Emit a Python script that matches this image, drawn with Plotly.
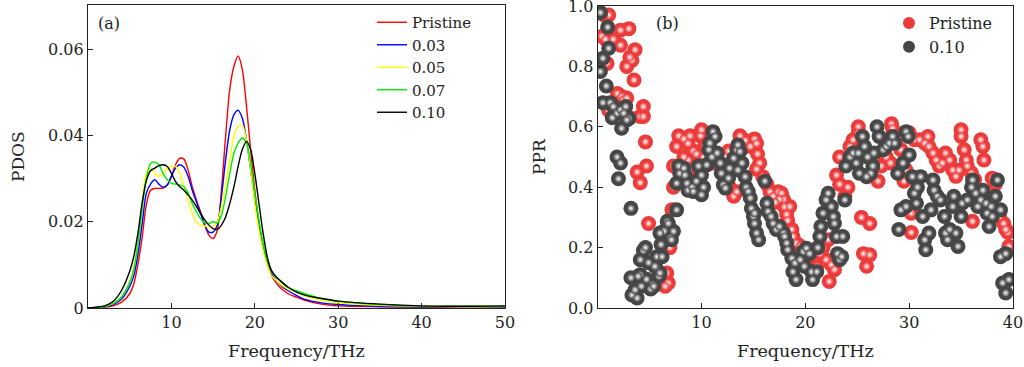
import plotly.graph_objects as go

# ---------------- Panel (a): PDOS ----------------
freq_a = [0, 1, 2, 3, 4, 5, 5.5, 6, 6.5, 7, 7.5, 8, 8.5, 9, 9.5, 10, 10.5, 11, 11.5, 12,
          12.5, 13, 13.5, 14, 14.5, 15, 15.5, 16, 16.5, 17, 17.5, 18, 18.5, 19, 19.5, 20,
          20.5, 21, 21.5, 22, 22.5, 23, 24, 25, 26, 28, 30, 35, 40, 45, 50]

pdos_pristine = [0, 0.0001, 0.0002, 0.0005, 0.0013, 0.0033, 0.0056, 0.0103, 0.0165, 0.024,
                 0.0273, 0.0277, 0.0277, 0.0278, 0.0285, 0.0305, 0.0332, 0.0347, 0.0345, 0.032,
                 0.0281, 0.025, 0.0223, 0.0192, 0.0169, 0.0161, 0.018, 0.0273, 0.0398, 0.0507,
                 0.056, 0.0584, 0.0553, 0.0468, 0.0367, 0.0273, 0.0196, 0.0141, 0.0103, 0.0075,
                 0.006, 0.0048, 0.0033, 0.0025, 0.0018, 0.0009, 0.0005, 0.0003, 0.0002, 0.0002, 0.0003]

pdos_003 = [0, 0.0001, 0.0003, 0.0008, 0.002, 0.005, 0.0075, 0.0126, 0.0196, 0.0266,
            0.0287, 0.0297, 0.0287, 0.028, 0.0285, 0.0305, 0.0324, 0.0332, 0.0326, 0.0305,
            0.0273, 0.0246, 0.0219, 0.0192, 0.0176, 0.0176, 0.0192, 0.0258, 0.0343, 0.0413,
            0.0448, 0.0458, 0.044, 0.039, 0.032, 0.025, 0.0188, 0.0141, 0.0103, 0.0079,
            0.0065, 0.0054, 0.004, 0.0029, 0.002, 0.0012, 0.0008, 0.0004, 0.0003, 0.0003, 0.0003]

pdos_005 = [0, 0.0001, 0.0004, 0.001, 0.0025, 0.006, 0.0095, 0.016, 0.0245, 0.0312,
            0.0324, 0.0312, 0.0305, 0.0312, 0.0324, 0.0328, 0.0328, 0.0312, 0.0281, 0.025,
            0.0219, 0.02, 0.0192, 0.019, 0.0188, 0.0188, 0.02, 0.0235, 0.0289, 0.0343,
            0.0398, 0.0421, 0.0423, 0.039, 0.032, 0.0242, 0.018, 0.0134, 0.0099, 0.0075,
            0.0065, 0.0056, 0.0044, 0.0037, 0.0028, 0.0017, 0.0012, 0.0006, 0.0004, 0.0003, 0.0004]

pdos_007 = [0, 0.0001, 0.0004, 0.0011, 0.0025, 0.006, 0.009, 0.015, 0.023, 0.030,
            0.0335, 0.0338, 0.0332, 0.0312, 0.0297, 0.0289, 0.0287, 0.0285, 0.0281, 0.0266,
            0.0242, 0.0223, 0.0207, 0.0197, 0.0196, 0.02, 0.0197, 0.0215, 0.0258, 0.0312,
            0.0359, 0.0382, 0.0394, 0.0382, 0.0336, 0.0266, 0.0204, 0.0149, 0.011, 0.0087,
            0.0074, 0.0064, 0.0048, 0.004, 0.0033, 0.0022, 0.0016, 0.0008, 0.0004, 0.0004, 0.0004]

pdos_010 = [0, 0.0002, 0.0005, 0.0015, 0.004, 0.0085, 0.012, 0.0175, 0.0245, 0.0295,
            0.0318, 0.0324, 0.033, 0.0332, 0.0328, 0.0312, 0.0293, 0.0281, 0.0273, 0.0262,
            0.025, 0.0235, 0.0219, 0.0204, 0.0192, 0.0184, 0.0182, 0.0192, 0.0211, 0.0242,
            0.0281, 0.0328, 0.0367, 0.0386, 0.0367, 0.0312, 0.0242, 0.0173, 0.0118, 0.0087,
            0.0073, 0.0064, 0.0048, 0.0037, 0.003, 0.0022, 0.0016, 0.0009, 0.0005, 0.0004, 0.0005]

pdos_names = ["Pristine", "0.03", "0.05", "0.07", "0.10"]
pdos_colors = ["#ff0000", "#0000ff", "#ffff00", "#00ee00", "#000000"]

x_ticks_a = [10, 20, 30, 40, 50]
y_ticks_a = [0, 0.02, 0.04, 0.06]
y_ticktext_a = ["0", "0.02", "0.04", "0.06"]

# ---------------- Panel (b): PPR ----------------
freq_pristine = [0.4, 1.06, 0.6, 0.74, 1.5, 2.2, 3.0, 2.2, 0.26, 0.9, 2.8, 3.3, 3.1, 3.6, 3.5,
                 1.9, 2.3, 2.5, 2.8, 1.05, 4.4, 4.1, 4.4, 3.1, 4.6, 4.7, 3.8, 4.1, 4.9,
                 6.65, 6.8, 6.5, 6.95, 7.15,
                 7.3, 7.6, 7.8, 8.3, 8.7, 8.9, 9.2, 9.5, 9.9, 10.0, 10.3, 9.7, 8.7, 7.3, 8.3, 10.2, 10.7,
                 11.1, 11.8, 12.3, 12.6, 12.7, 13.1, 13.4, 13.7, 14.2, 14.7, 15.1, 15.3, 15.4, 15.6,
                 15.3, 15.9, 16.3, 16.6, 16.9, 17.4, 17.7, 17.9, 18.0, 18.2, 18.3, 18.7, 18.8, 19.1,
                 19.5, 18.5, 17.5, 17.1,
                 20.7, 21.1, 22.0, 22.5, 22.3, 22.8, 21.4, 21.7, 22.2,
                 23.0, 23.3, 23.3, 24.1, 23.8, 24.6, 25.1, 25.1, 24.7, 24.3, 25.4, 26.2, 25.6, 26.2,
                 25.9, 27.0, 27.3, 27.8, 28.2, 28.3, 28.4, 27.8, 28.7, 29.2, 29.7, 29.5, 30.0, 30.5,
                 30.2, 30.2,
                 31.0, 31.5, 31.8, 31.9, 32.3, 32.6, 32.9, 33.2, 33.5, 33.9, 34.2, 34.5, 34.8, 35.0,
                 35.0, 35.3, 35.5, 35.6, 36.0, 36.3, 36.1, 36.9, 37.1, 37.2, 38.0, 38.7, 39.1, 39.5,
                 39.6, 39.3, 38.3]
ppr_pristine = [0.90, 0.97, 0.97, 0.89, 0.89, 0.92, 0.925, 0.87, 0.82, 0.81, 0.80, 0.82, 0.83, 0.855, 0.755,
                0.71, 0.70, 0.69, 0.695, 0.655, 0.667, 0.634, 0.634, 0.63, 0.55, 0.47, 0.45, 0.415, 0.28,
                0.116, 0.083, 0.072, 0.20, 0.325,
                0.47, 0.535, 0.57, 0.56, 0.545, 0.57, 0.52, 0.51, 0.57, 0.59, 0.535, 0.45, 0.49, 0.40, 0.50, 0.50, 0.51,
                0.48, 0.47, 0.50, 0.52, 0.40, 0.37, 0.385, 0.57, 0.555, 0.535, 0.56, 0.545, 0.51, 0.48,
                0.46, 0.435, 0.41, 0.385, 0.37, 0.385, 0.38, 0.36, 0.335, 0.31, 0.29, 0.26, 0.237, 0.215,
                0.205, 0.336, 0.36, 0.35,
                0.17, 0.138, 0.16, 0.143, 0.088, 0.127, 0.18, 0.20, 0.226,
                0.44, 0.50, 0.41, 0.40, 0.37, 0.557, 0.60, 0.58, 0.513, 0.535, 0.30, 0.28, 0.18, 0.176,
                0.138, 0.42, 0.47, 0.50, 0.48, 0.61, 0.595, 0.557, 0.545, 0.524, 0.457, 0.42, 0.58, 0.557,
                0.314, 0.25,
                0.557, 0.546, 0.568, 0.535, 0.513, 0.49, 0.47, 0.48, 0.513, 0.49, 0.457, 0.436, 0.457, 0.59,
                0.568, 0.524, 0.49, 0.47, 0.447, 0.425, 0.287, 0.557, 0.535, 0.49, 0.43, 0.303, 0.28, 0.25,
                0.204, 0.26, 0.41]

freq_010 = [0.26, 0.96, 1.06, 0.5, 0.26, 0.83, 0.5, 1.2, 1.5, 1.86, 1.4, 2.2, 2.7, 2.5, 2.3, 3.0, 2.8,
            1.86, 2.2, 2.0, 3.2,
            3.3, 3.6, 3.2, 4.1, 4.7, 5.3, 5.9, 5.7, 4.4, 4.1, 6.1, 6.4, 6.7, 7.3, 7.6, 7.0, 5.6, 5.1,
            4.2, 3.8, 3.9, 4.6, 4.9, 5.4, 5.5, 6.2, 6.0, 6.8, 7.1, 6.0,
            7.8, 7.9, 7.6, 8.3, 8.4, 8.6, 8.7, 9.1, 9.2, 9.5, 9.7, 10.0, 10.2, 10.0, 10.5, 10.7, 10.8,
            11.1, 11.3, 11.0, 11.5, 11.8, 11.9, 12.1, 12.3, 12.6, 12.7, 13.1, 13.4, 13.5, 13.7, 13.9,
            13.5, 14.2, 14.3, 14.5, 14.7, 14.8, 15.0, 15.1, 15.3, 15.5, 15.1, 16.1, 16.3, 16.4, 16.7,
            16.9, 17.2, 17.5, 17.9, 18.0, 18.2, 18.3, 18.7, 19.0, 18.8, 19.1, 19.5, 19.8, 20.1, 19.9,
            20.6, 20.7, 21.1, 20.4, 21.2, 21.4, 21.5, 21.7, 22.0, 22.2, 22.5, 22.7, 22.8, 23.0, 23.6,
            23.1, 23.3, 23.5, 23.8,
            23.9, 24.3, 24.6, 24.9, 25.2, 25.5, 25.7, 26.0, 26.3, 26.5, 26.6, 26.9, 27.1, 27.5, 27.8,
            28.1, 28.4, 28.6, 28.9, 25.9, 25.1, 29.7, 29.9, 30.0, 29.4, 29.2, 29.0, 29.7,
            30.3, 30.5, 30.7, 30.8, 31.1, 31.3, 31.5, 31.6, 31.9, 32.1, 32.3, 32.4, 32.7, 33.0, 33.4,
            33.5, 33.7, 33.9, 34.2, 34.3, 34.5, 34.7, 35.0, 35.1, 35.6, 36.0, 36.1, 36.4, 36.6, 36.9,
            37.1, 37.4, 37.5, 37.7, 38.0, 38.3, 38.5, 38.8, 38.8, 39.3, 39.0, 39.3, 39.6, 37.9]
ppr_010 = [0.978, 0.93, 0.86, 0.827, 0.783, 0.735, 0.68, 0.68, 0.667, 0.645, 0.63, 0.656, 0.667, 0.645,
           0.595, 0.628, 0.623, 0.50, 0.48, 0.428, 0.33,
           0.043, 0.06, 0.10, 0.11, 0.095, 0.078, 0.105, 0.17, 0.19, 0.16, 0.21, 0.255, 0.287, 0.254,
           0.325, 0.232, 0.135, 0.063, 0.072, 0.033, 0.105, 0.20, 0.15, 0.072, 0.138, 0.17, 0.248,
           0.28, 0.226, 0.116,
           0.47, 0.446, 0.413, 0.463, 0.44, 0.413, 0.39, 0.40, 0.386, 0.42, 0.47, 0.44, 0.40, 0.375,
           0.474, 0.524, 0.546, 0.584, 0.568, 0.50, 0.513, 0.48, 0.446, 0.408, 0.397, 0.43, 0.463,
           0.496, 0.524, 0.54, 0.518, 0.48, 0.457, 0.435, 0.40, 0.386, 0.364, 0.33, 0.303, 0.28,
           0.248, 0.226, 0.314, 0.42, 0.347, 0.32, 0.303, 0.28, 0.26, 0.27, 0.248, 0.237, 0.215,
           0.193, 0.165, 0.149, 0.12, 0.094, 0.16, 0.187, 0.198, 0.138, 0.12, 0.094, 0.12, 0.18,
           0.20, 0.237, 0.27, 0.314, 0.358, 0.38, 0.336, 0.303, 0.28, 0.237, 0.237, 0.18, 0.16,
           0.17, 0.358,
           0.47, 0.50, 0.513, 0.48, 0.446, 0.568, 0.535, 0.50, 0.446, 0.47, 0.513, 0.60, 0.568,
           0.524, 0.535, 0.546, 0.568, 0.546, 0.446, 0.435, 0.513, 0.584, 0.568, 0.507, 0.48, 0.325,
           0.26, 0.336,
           0.435, 0.38, 0.347, 0.40, 0.435, 0.303, 0.226, 0.193, 0.248, 0.325, 0.424, 0.39, 0.37,
           0.358, 0.303, 0.248, 0.226, 0.26, 0.336, 0.37, 0.248, 0.204, 0.303, 0.347, 0.358, 0.40,
           0.424, 0.38, 0.336, 0.358, 0.39, 0.347, 0.314, 0.27, 0.303, 0.37, 0.424, 0.325, 0.17,
           0.18, 0.083, 0.05, 0.094, 0.336]

x_ticks_b = [10, 20, 30, 40]
y_ticks_b = [0.0, 0.2, 0.4, 0.6, 0.8, 1.0]
y_ticktext_b = ["0.0", "0.2", "0.4", "0.6", "0.8", "1.0"]

RED = "#ec3b3b"
GRAY = "#464646"
FONT = "DejaVu Serif"
TXT = "#222222"

fig = go.Figure()

for name, vals, col in zip(pdos_names, [pdos_pristine, pdos_003, pdos_005, pdos_007, pdos_010], pdos_colors):
    fig.add_trace(go.Scatter(x=freq_a, y=vals, mode="lines", name=name,
                             line=dict(color=col, width=1.4, shape="spline", smoothing=0.8),
                             xaxis="x", yaxis="y", legend="legend"))

for name, fx, fy, col in [("Pristine", freq_pristine, ppr_pristine, RED),
                          ("0.10", freq_010, ppr_010, GRAY)]:
    fig.add_trace(go.Scatter(x=fx, y=fy, mode="markers", name=name,
                             marker=dict(size=15, color=col, line=dict(width=0)),
                             xaxis="x2", yaxis="y2", legend="legend2"))
    fig.add_trace(go.Scatter(x=fx, y=fy, mode="markers", name=name, showlegend=False,
                             marker=dict(size=8, color=col, line=dict(width=0),
                                         gradient=dict(type="radial", color="#ffffff")),
                             xaxis="x2", yaxis="y2", hoverinfo="skip"))

W, H = 1024, 367
axcommon = dict(showgrid=False, zeroline=False, showline=True, linecolor=TXT, linewidth=1.3,
                mirror=True, ticks="inside", ticklen=5, tickwidth=1.2, tickcolor=TXT,
                automargin=False, ticklabeloverflow="allow",
                tickfont=dict(family=FONT, size=16, color=TXT))

fig.update_layout(
    width=W, height=H, margin=dict(l=0, r=0, t=0, b=0),
    paper_bgcolor="white", plot_bgcolor="white",
    font=dict(family=FONT, size=16, color=TXT),
    xaxis=dict(domain=[88 / W, 505 / W], range=[0, 50], tickvals=x_ticks_a, anchor="y", **axcommon),
    yaxis=dict(domain=[(H - 308) / H, (H - 5) / H], range=[0, 0.0702], tickvals=y_ticks_a,
               ticktext=y_ticktext_a, anchor="x", **axcommon),
    xaxis2=dict(domain=[597.7 / W, 1013 / W], range=[0, 40], tickvals=x_ticks_b, anchor="y2", **axcommon),
    yaxis2=dict(domain=[(H - 308) / H, (H - 6) / H], range=[0, 1.0], tickvals=y_ticks_b,
                ticktext=y_ticktext_b, anchor="x2", **axcommon),
    legend=dict(x=372 / W, y=1 - 6 / H, xanchor="left", yanchor="top", bgcolor="rgba(0,0,0,0)",
                font=dict(family=FONT, size=15, color=TXT), tracegroupgap=0),
    legend2=dict(x=889 / W, y=1 - 6 / H, xanchor="left", yanchor="top", bgcolor="rgba(0,0,0,0)",
                 font=dict(family=FONT, size=16, color=TXT), itemsizing="constant"),
    showlegend=True,
    annotations=[
        dict(text="(a)", x=96 / W, y=1 - 23 / H, xref="paper", yref="paper", xanchor="left",
             yanchor="middle", showarrow=False, font=dict(family=FONT, size=16, color=TXT)),
        dict(text="(b)", x=654 / W, y=1 - 23 / H, xref="paper", yref="paper", xanchor="left",
             yanchor="middle", showarrow=False, font=dict(family=FONT, size=16, color=TXT)),
        dict(text="PDOS", x=18 / W, y=1 - 157 / H, xref="paper", yref="paper", textangle=-90,
             xanchor="center", yanchor="middle", showarrow=False,
             font=dict(family=FONT, size=17, color=TXT)),
        dict(text="PPR", x=539 / W, y=1 - 157 / H, xref="paper", yref="paper", textangle=-90,
             xanchor="center", yanchor="middle", showarrow=False,
             font=dict(family=FONT, size=17, color=TXT)),
        dict(text="Frequency/THz", x=(88 + 505) / 2 / W, y=1 - 351 / H, xref="paper", yref="paper",
             xanchor="center", yanchor="middle", showarrow=False,
             font=dict(family=FONT, size=17.5, color=TXT)),
        dict(text="Frequency/THz", x=(597.7 + 1013) / 2 / W, y=1 - 351 / H, xref="paper", yref="paper",
             xanchor="center", yanchor="middle", showarrow=False,
             font=dict(family=FONT, size=17.5, color=TXT)),
    ],
)

fig.write_html("out.html", config={"displayModeBar": False},
               post_script="document.body.style.margin='0';document.body.style.padding='0';")
